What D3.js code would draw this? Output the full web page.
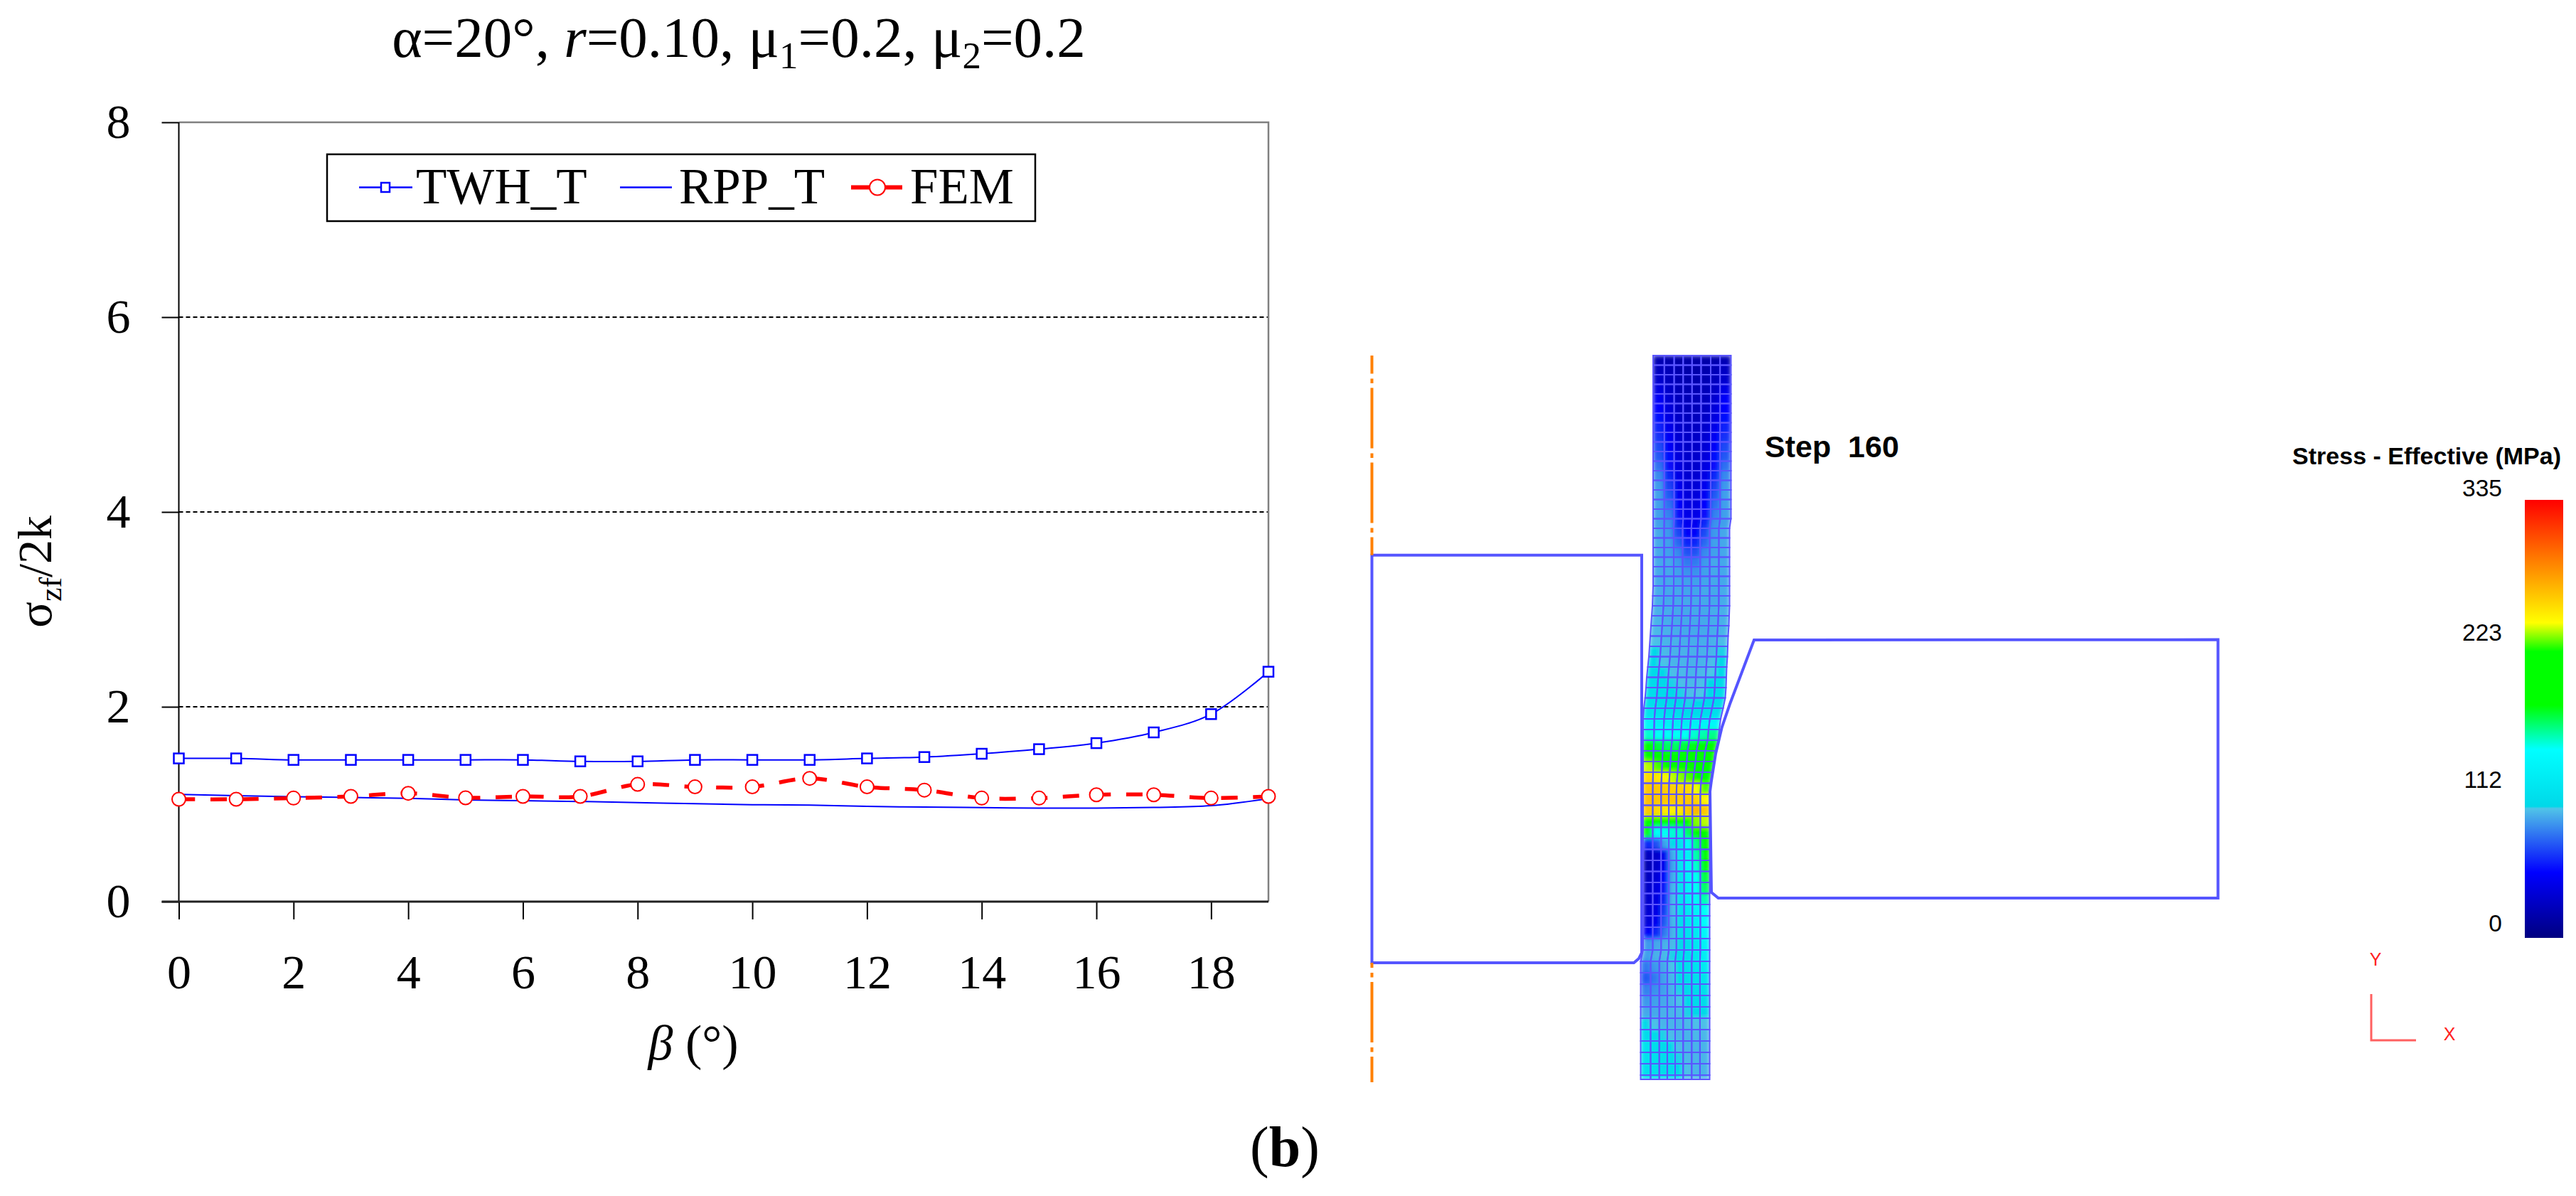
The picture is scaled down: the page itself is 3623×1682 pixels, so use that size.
<!DOCTYPE html>
<html>
<head>
<meta charset="utf-8">
<script src="https://cdn.jsdelivr.net/npm/d3@7"></script>
<style>
  body { margin: 0; background: #fff; }
  svg { display: block; }
  text { font-family: "Liberation Serif", serif; fill: #000; }
  .sans { font-family: "Liberation Sans", sans-serif; }
  .axis path { display: none; }
  .axis line { stroke: #000; stroke-width: 2; }
  .axis text { font-size: 68px; font-family: "Liberation Serif", serif; }
</style>
</head>
<body>
<script>
// values
var beta = [0, 1, 2, 3, 4, 5, 6, 7, 8, 9, 10, 11, 12, 13, 14, 15, 16, 17, 18, 19];
var twhT = [1.47, 1.47, 1.455, 1.455, 1.455, 1.455, 1.455, 1.44, 1.44, 1.455, 1.455, 1.455, 1.47, 1.484, 1.518, 1.565, 1.627, 1.737, 1.925, 2.36];
var rppT = [1.10, 1.088, 1.077, 1.07, 1.06, 1.044, 1.036, 1.028, 1.017, 1.005, 0.995, 0.99, 0.978, 0.97, 0.965, 0.96, 0.96, 0.967, 0.985, 1.058];
var fem = [1.051, 1.051, 1.063, 1.08, 1.112, 1.066, 1.08, 1.08, 1.204, 1.178, 1.178, 1.265, 1.178, 1.145, 1.063, 1.063, 1.097, 1.097, 1.063, 1.08];
var xTicks = [0, 2, 4, 6, 8, 10, 12, 14, 16, 18];
var yTicks = [0, 2, 4, 6, 8];
var gridValues = [2, 4, 6];

// colour bar of the FEM picture
var barStress = [0, 50, 99, 100.5, 144, 178, 219, 241, 335];
var barColors = ["#000080", "#0000ff", "#50c4e8", "#00d8e8", "#00ffff", "#00ff00", "#00ff00", "#ffff00", "#ff0000"];
var barTicks = [0, 112, 223, 335];

// FEM geometry in model units, y measured up from the bottom of the strip
var dieLeft = [[0, 73.93], [37.95, 73.93], [37.95, 18], [37.55, 17.2], [36.85, 16.6], [0, 16.6]];
var dieRight = [[53.75, 62], [119, 62.04], [119, 25.7], [48.72, 25.7], [47.75, 26.5], [47.55, 40.7], [47.72, 42], [48.35, 46], [49.22, 49.7], [50.35, 53], [52.35, 58.3]];
var meshCols = [0, 0.144, 0.27, 0.386, 0.5, 0.616, 0.74, 0.86, 1];
var meshY = [102, 100.65, 99.3, 97.95, 96.6, 95.25, 93.9, 92.55, 91.2, 89.85,
  88.5, 87.15, 85.8, 84.45, 83.1, 81.75, 80.4, 79.05, 77.7, 76.35,
  75, 73.65, 72.3, 70.95, 69.6, 68.2, 66.8, 65.4, 64, 62.55,
  61.1, 59.65, 58.2, 56.75, 55.3, 53.85, 52.4, 50.9, 49.4, 47.9,
  46.4, 44.9, 43.4, 41.85, 40.3, 38.75, 37.2, 35.65, 34.1, 32.55,
  31, 29.45, 27.9, 26.35, 24.8, 23.2, 21.6, 20, 18.4, 16.8,
  15.2, 13.6, 12, 10.4, 8.8, 7.2, 5.6, 4, 2.4, 0.8, 0.2];
var meshLeft = [39.55, 39.55, 39.55, 39.55, 39.55, 39.55, 39.55, 39.55, 39.55, 39.55,
  39.55, 39.55, 39.55, 39.55, 39.55, 39.55, 39.55, 39.55, 39.55, 39.55,
  39.55, 39.55, 39.55, 39.55, 39.55, 39.5, 39.45, 39.35, 39.25, 39.15,
  39.05, 38.95, 38.8, 38.65, 38.55, 38.42, 38.25, 38.15, 38.15, 38.15,
  38.15, 38.15, 38.15, 38.15, 38.15, 38.15, 38.15, 38.15, 38.15, 38.15,
  38.15, 38.15, 38.15, 38.15, 38.15, 38.15, 38.15, 38.15, 38.15, 37.8,
  37.8, 37.8, 37.8, 37.8, 37.8, 37.8, 37.8, 37.8, 37.8, 37.8, 37.8];
var meshRight = [50.5, 50.5, 50.5, 50.5, 50.5, 50.5, 50.5, 50.5, 50.5, 50.5,
  50.5, 50.5, 50.5, 50.5, 50.5, 50.5, 50.5, 50.5, 50.3, 50.3,
  50.3, 50.3, 50.3, 50.3, 50.3, 50.3, 50.3, 50.25, 50.2, 50.1,
  50.05, 50, 49.9, 49.85, 49.8, 49.7, 49.4, 49.05, 48.85, 48.7,
  48.3, 48.1, 47.85, 47.6, 47.5, 47.5, 47.5, 47.5, 47.5, 47.5,
  47.5, 47.5, 47.5, 47.5, 47.5, 47.5, 47.5, 47.5, 47.5, 47.5,
  47.5, 47.5, 47.5, 47.5, 47.5, 47.5, 47.5, 47.5, 47.5, 47.5, 47.5];

// effective stress (MPa) per mesh row, 8 cells wide, top of the strip first
var meshStress = [
  [20, 18, 16, 16, 16, 16, 18, 20], [25, 22, 18, 16, 16, 18, 22, 26], [30, 24, 20, 18, 18, 20, 24, 30],
  [38, 28, 22, 20, 20, 22, 28, 40], [46, 32, 24, 22, 22, 24, 32, 48], [50, 36, 26, 22, 22, 26, 36, 50],
  [52, 38, 28, 24, 24, 28, 38, 52], [58, 42, 30, 26, 26, 30, 42, 58], [62, 46, 32, 28, 28, 32, 46, 62],
  [68, 48, 34, 28, 28, 34, 48, 68], [72, 52, 36, 30, 30, 36, 52, 72], [78, 54, 38, 30, 30, 38, 54, 78],
  [84, 60, 40, 32, 32, 40, 60, 84], [88, 66, 44, 34, 34, 44, 66, 88], [90, 72, 46, 36, 36, 46, 72, 90],
  [90, 78, 50, 38, 38, 50, 78, 90], [90, 82, 54, 40, 40, 54, 82, 90], [90, 86, 60, 44, 44, 60, 86, 90],
  [92, 88, 68, 48, 48, 68, 88, 92], [92, 90, 76, 58, 58, 76, 90, 92], [92, 90, 84, 70, 70, 84, 90, 92],
  [92, 92, 88, 80, 80, 88, 92, 92], [92, 92, 90, 86, 86, 90, 92, 92], [92, 92, 91, 90, 90, 91, 92, 92],
  [93, 92, 92, 91, 91, 92, 92, 93], [93, 92, 92, 92, 92, 92, 92, 93], [94, 93, 92, 92, 92, 92, 93, 94],
  [95, 93, 92, 92, 92, 92, 93, 94], [96, 94, 93, 92, 92, 92, 93, 95], [98, 95, 94, 93, 93, 93, 94, 97],
  [101, 96, 94, 94, 94, 94, 95, 100], [102, 98, 95, 95, 94, 95, 97, 101], [103, 101, 97, 96, 95, 96, 99, 102],
  [104, 102, 100, 97, 96, 97, 101, 103], [106, 104, 102, 100, 97, 99, 102, 104], [108, 106, 104, 102, 100, 102, 104, 106],
  [112, 110, 107, 106, 104, 104, 106, 108], [135, 130, 128, 125, 125, 128, 132, 136], [150, 145, 145, 145, 145, 150, 155, 160],
  [178, 170, 165, 165, 170, 175, 178, 178], [182, 180, 180, 180, 180, 180, 180, 180], [235, 225, 200, 185, 182, 180, 180, 180],
  [255, 250, 245, 235, 230, 225, 215, 195], [262, 262, 260, 258, 258, 255, 240, 225], [265, 262, 262, 262, 260, 262, 258, 245],
  [262, 255, 250, 245, 250, 262, 268, 262], [200, 190, 180, 180, 180, 200, 230, 235], [175, 145, 145, 150, 150, 165, 178, 178],
  [60, 70, 90, 105, 110, 140, 160, 178], [25, 30, 45, 92, 115, 130, 155, 178], [20, 30, 45, 90, 115, 135, 150, 180],
  [25, 35, 50, 92, 112, 130, 145, 170], [28, 38, 55, 95, 112, 130, 140, 165], [30, 38, 60, 96, 110, 125, 135, 155],
  [32, 40, 65, 96, 108, 118, 130, 145], [35, 45, 72, 95, 106, 115, 125, 140], [48, 60, 80, 94, 104, 112, 120, 135],
  [88, 92, 94, 96, 102, 108, 118, 128], [90, 94, 96, 100, 104, 108, 116, 125], [80, 88, 92, 98, 104, 108, 112, 120],
  [72, 80, 90, 95, 102, 106, 108, 112], [82, 86, 90, 94, 100, 104, 106, 108], [88, 90, 92, 94, 98, 102, 104, 104],
  [92, 92, 94, 95, 96, 100, 102, 102], [102, 98, 95, 95, 95, 96, 98, 98], [106, 103, 100, 97, 95, 95, 96, 96],
  [112, 106, 104, 102, 97, 95, 95, 95], [112, 108, 106, 105, 100, 96, 95, 95], [110, 108, 105, 105, 102, 98, 95, 95],
  [108, 106, 105, 105, 102, 98, 96, 95]
];

var svg_width = 3623;
var svg_height = 1682;

var svg = d3.select("body").append("svg")
  .attr("width", svg_width)
  .attr("height", svg_height);
var defs = svg.append("defs");

// ---------- left chart ----------
var xScale = d3.scaleLinear().domain([0, 19]).range([251.5, 1784]);
var yScale = d3.scaleLinear().domain([0, 8]).range([1268, 172]);

// title, with the greek letters and subscripts as real text
var title = svg.append("text")
  .attr("x", 1039)
  .attr("y", 80)
  .attr("text-anchor", "middle")
  .style("font-size", "81px");
title.append("tspan").text("α=20°, ");
title.append("tspan").style("font-style", "italic").text("r");
title.append("tspan").text("=0.10, μ");
title.append("tspan").attr("dy", 16).style("font-size", "53px").text("1");
title.append("tspan").attr("dy", -16).text("=0.2, μ");
title.append("tspan").attr("dy", 16).style("font-size", "53px").text("2");
title.append("tspan").attr("dy", -16).text("=0.2");

// dashed grid
svg.selectAll(".grid")
  .data(gridValues)
  .enter()
  .append("line")
  .attr("class", "grid")
  .attr("x1", xScale(0))
  .attr("x2", xScale(19))
  .attr("y1", d => yScale(d))
  .attr("y2", d => yScale(d))
  .attr("stroke", "#000")
  .attr("stroke-width", 2)
  .attr("stroke-dasharray", "6 4");

// grey frame on top and right
svg.append("path")
  .attr("d", d3.line()([[xScale(0), yScale(8)], [xScale(19), yScale(8)], [xScale(19), yScale(0)]]))
  .attr("fill", "none")
  .attr("stroke", "#808080")
  .attr("stroke-width", 2.5);

// axes
svg.append("g")
  .attr("class", "axis")
  .attr("transform", "translate(0," + yScale(0) + ")")
  .call(d3.axisBottom(xScale).tickValues(xTicks).tickSize(25).tickPadding(49));

svg.append("g")
  .attr("class", "axis")
  .attr("transform", "translate(" + xScale(0) + ",0)")
  .call(d3.axisLeft(yScale).tickValues(yTicks).tickSize(24).tickPadding(44));

svg.append("line")
  .attr("x1", xScale(0)).attr("x2", xScale(0))
  .attr("y1", yScale(8)).attr("y2", yScale(0))
  .attr("stroke", "#000").attr("stroke-width", 2);
svg.append("line")
  .attr("x1", xScale(0) - 24).attr("x2", xScale(19))
  .attr("y1", yScale(0)).attr("y2", yScale(0))
  .attr("stroke", "#222").attr("stroke-width", 3);

// series
var line = d3.line()
  .x((d, i) => xScale(beta[i]))
  .y(d => yScale(d))
  .curve(d3.curveCatmullRom);

svg.append("path").attr("d", line(rppT)).attr("fill", "none").attr("stroke", "#0000ff").attr("stroke-width", 2);
svg.append("path").attr("d", line(twhT)).attr("fill", "none").attr("stroke", "#0000ff").attr("stroke-width", 2);
svg.append("path").attr("d", line(fem)).attr("fill", "none").attr("stroke", "#ff0000")
  .attr("stroke-width", 5.5).attr("stroke-dasharray", "23 21.6");

svg.selectAll(".twh")
  .data(twhT)
  .enter()
  .append("rect")
  .attr("class", "twh")
  .attr("x", (d, i) => xScale(beta[i]) - 7)
  .attr("y", d => yScale(d) - 7)
  .attr("width", 14)
  .attr("height", 14)
  .attr("fill", "#fff")
  .attr("stroke", "#0000ff")
  .attr("stroke-width", 2.5);

svg.selectAll(".fem")
  .data(fem)
  .enter()
  .append("circle")
  .attr("class", "fem")
  .attr("cx", (d, i) => xScale(beta[i]))
  .attr("cy", d => yScale(d))
  .attr("r", 9.5)
  .attr("fill", "#fff")
  .attr("stroke", "#ff0000")
  .attr("stroke-width", 2);

// legend
svg.append("rect")
  .attr("x", 460).attr("y", 217)
  .attr("width", 996).attr("height", 94)
  .attr("fill", "#fff").attr("stroke", "#000").attr("stroke-width", 2.5);

var legendY = 263.5;
svg.append("line").attr("x1", 505).attr("x2", 580).attr("y1", legendY).attr("y2", legendY)
  .attr("stroke", "#0000ff").attr("stroke-width", 2.5);
svg.append("rect").attr("x", 536).attr("y", legendY - 6.5).attr("width", 12).attr("height", 13)
  .attr("fill", "#fff").attr("stroke", "#0000ff").attr("stroke-width", 2.5);
svg.append("line").attr("x1", 872).attr("x2", 945).attr("y1", legendY).attr("y2", legendY)
  .attr("stroke", "#0000ff").attr("stroke-width", 2.5);
svg.append("line").attr("x1", 1197).attr("x2", 1269).attr("y1", legendY).attr("y2", legendY)
  .attr("stroke", "#ff0000").attr("stroke-width", 6);
svg.append("circle").attr("cx", 1234).attr("cy", legendY).attr("r", 11)
  .attr("fill", "#fff").attr("stroke", "#ff0000").attr("stroke-width", 2);

svg.selectAll(".legend-text")
  .data([["TWH_T", 585], ["RPP_T", 955], ["FEM", 1280]])
  .enter()
  .append("text")
  .attr("class", "legend-text")
  .attr("x", d => d[1])
  .attr("y", 286)
  .style("font-size", "71px")
  .text(d => d[0]);

// y axis title
var yTitle = svg.append("text")
  .attr("transform", "translate(72,725) rotate(-90)")
  .attr("text-anchor", "end")
  .style("font-size", "68px");
yTitle.append("tspan").text("σ");
yTitle.append("tspan").attr("dy", 14).style("font-size", "44px").text("zf");
yTitle.append("tspan").attr("dy", -14).text("/2k");

// x axis title
var xTitle = svg.append("text")
  .attr("x", 975)
  .attr("y", 1490)
  .attr("text-anchor", "middle")
  .style("font-size", "70px");
xTitle.append("tspan").style("font-style", "italic").text("β");
xTitle.append("tspan").text(" (°)");

// caption
var caption = svg.append("text")
  .attr("x", 1807)
  .attr("y", 1640)
  .attr("text-anchor", "middle")
  .style("font-size", "80px");
caption.append("tspan").text("(");
caption.append("tspan").style("font-weight", "bold").text("b");
caption.append("tspan").text(")");

// ---------- FEM picture ----------
var femX = d3.scaleLinear().domain([0, 119]).range([1929.5, 3119.5]);
var femY = d3.scaleLinear().domain([0, 102]).range([1520, 500]);
var stressColor = d3.scaleLinear().domain(barStress).range(barColors).clamp(true);

var femLine = d3.line().x(d => femX(d[0])).y(d => femY(d[1]));

// mesh cells, one trapezoid per value
var cells = [];
meshStress.forEach(function(row, r) {
  row.forEach(function(v, c) {
    var topL = meshLeft[r], topR = meshRight[r], botL = meshLeft[r + 1], botR = meshRight[r + 1];
    var corners = [
      [topL + (topR - topL) * meshCols[c], meshY[r]],
      [topL + (topR - topL) * meshCols[c + 1], meshY[r]],
      [botL + (botR - botL) * meshCols[c + 1], meshY[r + 1]],
      [botL + (botR - botL) * meshCols[c], meshY[r + 1]]
    ];
    cells.push({stress: v, corners: corners});
  });
});

// the contour colours run softly across the cells, so blur the fills and clip to the strip
var outline = meshY.map((y, i) => [meshLeft[i], y])
  .concat(meshY.map((y, i) => [meshRight[i], y]).reverse());
defs.append("clipPath").attr("id", "stripClip")
  .append("path").attr("d", femLine(outline) + "Z");
defs.append("filter").attr("id", "soften")
  .attr("x", "-10%").attr("y", "-5%").attr("width", "120%").attr("height", "110%")
  .append("feGaussianBlur").attr("stdDeviation", 3);

svg.append("g")
  .attr("clip-path", "url(#stripClip)")
  .append("g")
  .attr("filter", "url(#soften)")
  .selectAll(".cell")
  .data(cells)
  .enter()
  .append("path")
  .attr("class", "cell")
  .attr("d", d => femLine(d.corners) + "Z")
  .attr("fill", d => stressColor(d.stress))
  .attr("stroke", d => stressColor(d.stress))
  .attr("stroke-width", 1);

svg.selectAll(".cell-edge")
  .data(cells)
  .enter()
  .append("path")
  .attr("class", "cell-edge")
  .attr("d", d => femLine(d.corners) + "Z")
  .attr("fill", "none")
  .attr("stroke", "#5a55ff")
  .attr("stroke-width", 2);

// dies
svg.selectAll(".die")
  .data([dieLeft, dieRight])
  .enter()
  .append("path")
  .attr("class", "die")
  .attr("d", d => femLine(d) + "Z")
  .attr("fill", "none")
  .attr("stroke", "#5555ff")
  .attr("stroke-width", 4);

// centre line, only visible outside the left die
svg.selectAll(".centre")
  .data([[73.93, 102, 59.5], [16.6, -0.2, 78]])
  .enter()
  .append("line")
  .attr("class", "centre")
  .attr("x1", femX(0))
  .attr("x2", femX(0))
  .attr("y1", d => d[0] > 50 ? femY(d[1]) : femY(d[0]))
  .attr("y2", d => d[0] > 50 ? femY(d[0]) : femY(d[1]))
  .attr("stroke", "#ff8000")
  .attr("stroke-width", 4)
  .attr("stroke-dasharray", "85 7 6.5 6.5")
  .attr("stroke-dashoffset", d => d[2]);

svg.append("text")
  .attr("class", "sans")
  .attr("x", 2482)
  .attr("y", 643)
  .attr("xml:space", "preserve")
  .style("white-space", "pre")
  .style("font-size", "43px")
  .style("font-weight", "bold")
  .text("Step  160");

// colour bar
var barY = d3.scaleLinear().domain([0, 335]).range([1319, 703]);
var grad = defs.append("linearGradient")
  .attr("id", "stressBar")
  .attr("x1", 0).attr("x2", 0).attr("y1", 1).attr("y2", 0);
grad.selectAll("stop")
  .data(barStress)
  .enter()
  .append("stop")
  .attr("offset", d => d / 335)
  .attr("stop-color", (d, i) => barColors[i]);

svg.append("rect")
  .attr("x", 3551)
  .attr("y", barY(335))
  .attr("width", 54)
  .attr("height", barY(0) - barY(335))
  .attr("fill", "url(#stressBar)");

svg.append("text")
  .attr("class", "sans")
  .attr("x", 3602)
  .attr("y", 653)
  .attr("text-anchor", "end")
  .style("font-size", "34px")
  .style("font-weight", "bold")
  .text("Stress - Effective (MPa)");

svg.selectAll(".bar-tick")
  .data(barTicks)
  .enter()
  .append("text")
  .attr("class", "bar-tick sans")
  .attr("x", 3519)
  .attr("y", (d, i) => [1310, 1108, 901, 698][i])
  .attr("text-anchor", "end")
  .style("font-size", "33.5px")
  .text(d => d);

// little xy triad
svg.append("path")
  .attr("d", d3.line()([[3335, 1398], [3335, 1463], [3398, 1463]]))
  .attr("fill", "none")
  .attr("stroke", "#ff6060")
  .attr("stroke-width", 3);
svg.append("text").attr("class", "sans").attr("x", 3341).attr("y", 1358).attr("text-anchor", "middle")
  .style("font-size", "25px").style("fill", "#ff2020").text("Y");
svg.append("text").attr("class", "sans").attr("x", 3445).attr("y", 1463).attr("text-anchor", "middle")
  .style("font-size", "25px").style("fill", "#ff2020").text("X");
</script>
</body>
</html>
